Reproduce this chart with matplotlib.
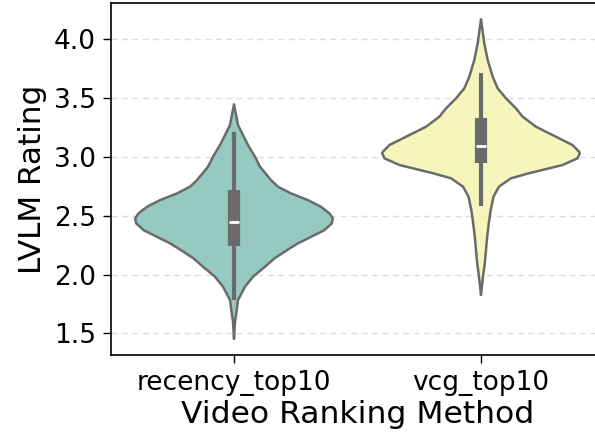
import colorsys
import matplotlib
matplotlib.use("Agg")
import matplotlib.pyplot as plt
import matplotlib.colors as mcolors

categories = ["recency_top10", "vcg_top10"]

# Violin density profiles: rating values and relative density (normalised to max)
recency_vals = [3.447, 3.271, 3.101, 3.002, 2.917, 2.804, 2.747, 2.690, 2.633,
                2.577, 2.520, 2.478, 2.435, 2.378, 2.321, 2.265, 2.194, 2.138,
                2.066, 1.981, 1.896, 1.783, 1.684, 1.599, 1.452]
recency_dens = [0.0, 4.0, 14.0, 21.0, 26.0, 37.0, 44.0, 57.0, 74.0,
                87.0, 95.7, 99.0, 98.0, 90.7, 77.3, 64.0, 50.7, 40.7,
                31.0, 19.0, 11.0, 4.0, 2.5, 1.0, 0.0]

vcg_vals = [4.170, 3.966, 3.824, 3.682, 3.583, 3.498, 3.413, 3.342, 3.257,
            3.172, 3.101, 3.044, 3.031, 2.988, 2.931, 2.861, 2.818, 2.747,
            2.662, 2.548, 2.435, 2.321, 2.208, 2.095, 1.981, 1.868, 1.826]
vcg_dens = [0.0, 3.3, 6.7, 11.7, 16.7, 25.0, 35.0, 41.7, 55.0,
            75.0, 91.7, 98.3, 99.0, 96.7, 81.7, 48.0, 30.0, 18.0,
            12.5, 9.7, 7.8, 6.2, 5.0, 3.8, 2.0, 0.5, 0.0]

# Box statistics: whisker low, q1, median, q3, whisker high
recency_box = [1.783, 2.245, 2.444, 2.719, 3.214]
vcg_box = [2.582, 2.946, 3.095, 3.333, 3.711]

yticks = [1.5, 2.0, 2.5, 3.0, 3.5, 4.0]

base_colors = ["#8dd3c7", "#ffffb3"]


def desaturate(c, prop):
    r, g, b = mcolors.to_rgb(c)
    h, l, s = colorsys.rgb_to_hls(r, g, b)
    return colorsys.hls_to_rgb(h, l, s * prop)


fills = [desaturate(c, 0.75) for c in base_colors]
edge = "#6b6b6b"

fig = plt.figure(figsize=(5.95, 4.36), dpi=100)
ax = fig.add_axes([110.5 / 595, 81 / 436, 494 / 595, 351.5 / 436])

profiles = [(recency_vals, recency_dens), (vcg_vals, vcg_dens)]
boxes = [recency_box, vcg_box]
half = 0.4

for i, ((vals, dens), box, fc) in enumerate(zip(profiles, boxes, fills)):
    m = max(dens)
    w = [d / m * half for d in dens]
    xs = [i - x for x in w] + [i + x for x in w[::-1]]
    ys = list(vals) + list(vals[::-1])
    ax.fill(xs, ys, facecolor=fc, edgecolor=edge, linewidth=1.8, zorder=2,
            joinstyle="round")
    wl, q1, med, q3, wh = box
    ax.plot([i, i], [wl, wh], color=edge, linewidth=3.0, solid_capstyle="butt", zorder=3)
    ax.plot([i, i], [q1, q3], color=edge, linewidth=8.8, solid_capstyle="butt", zorder=3)
    ax.plot([i - 0.02, i + 0.02], [med, med], color="white", linewidth=2.0,
            solid_capstyle="butt", zorder=4)

ax.set_xlim(-0.5, 1.5)
ax.set_ylim(1.316, 4.304)
ax.set_yticks(yticks)
ax.set_yticklabels([f"{t:.1f}" for t in yticks])
ax.set_xticks(range(len(categories)))
ax.set_xticklabels(categories)
ax.yaxis.grid(True, linestyle=(0, (4.5, 3)), color="#dddddd", linewidth=1.0, zorder=0)
ax.set_axisbelow(True)
for s in ax.spines.values():
    s.set_linewidth(1.2)
ax.tick_params(axis="both", labelsize=19, length=5.5, width=1.0, pad=5.0)
ax.set_xlabel("Video Ranking Method", fontsize=22.6, labelpad=3)
ax.set_ylabel("LVLM Rating", fontsize=22.4, labelpad=5)

fig.savefig("out.png", dpi=100)
